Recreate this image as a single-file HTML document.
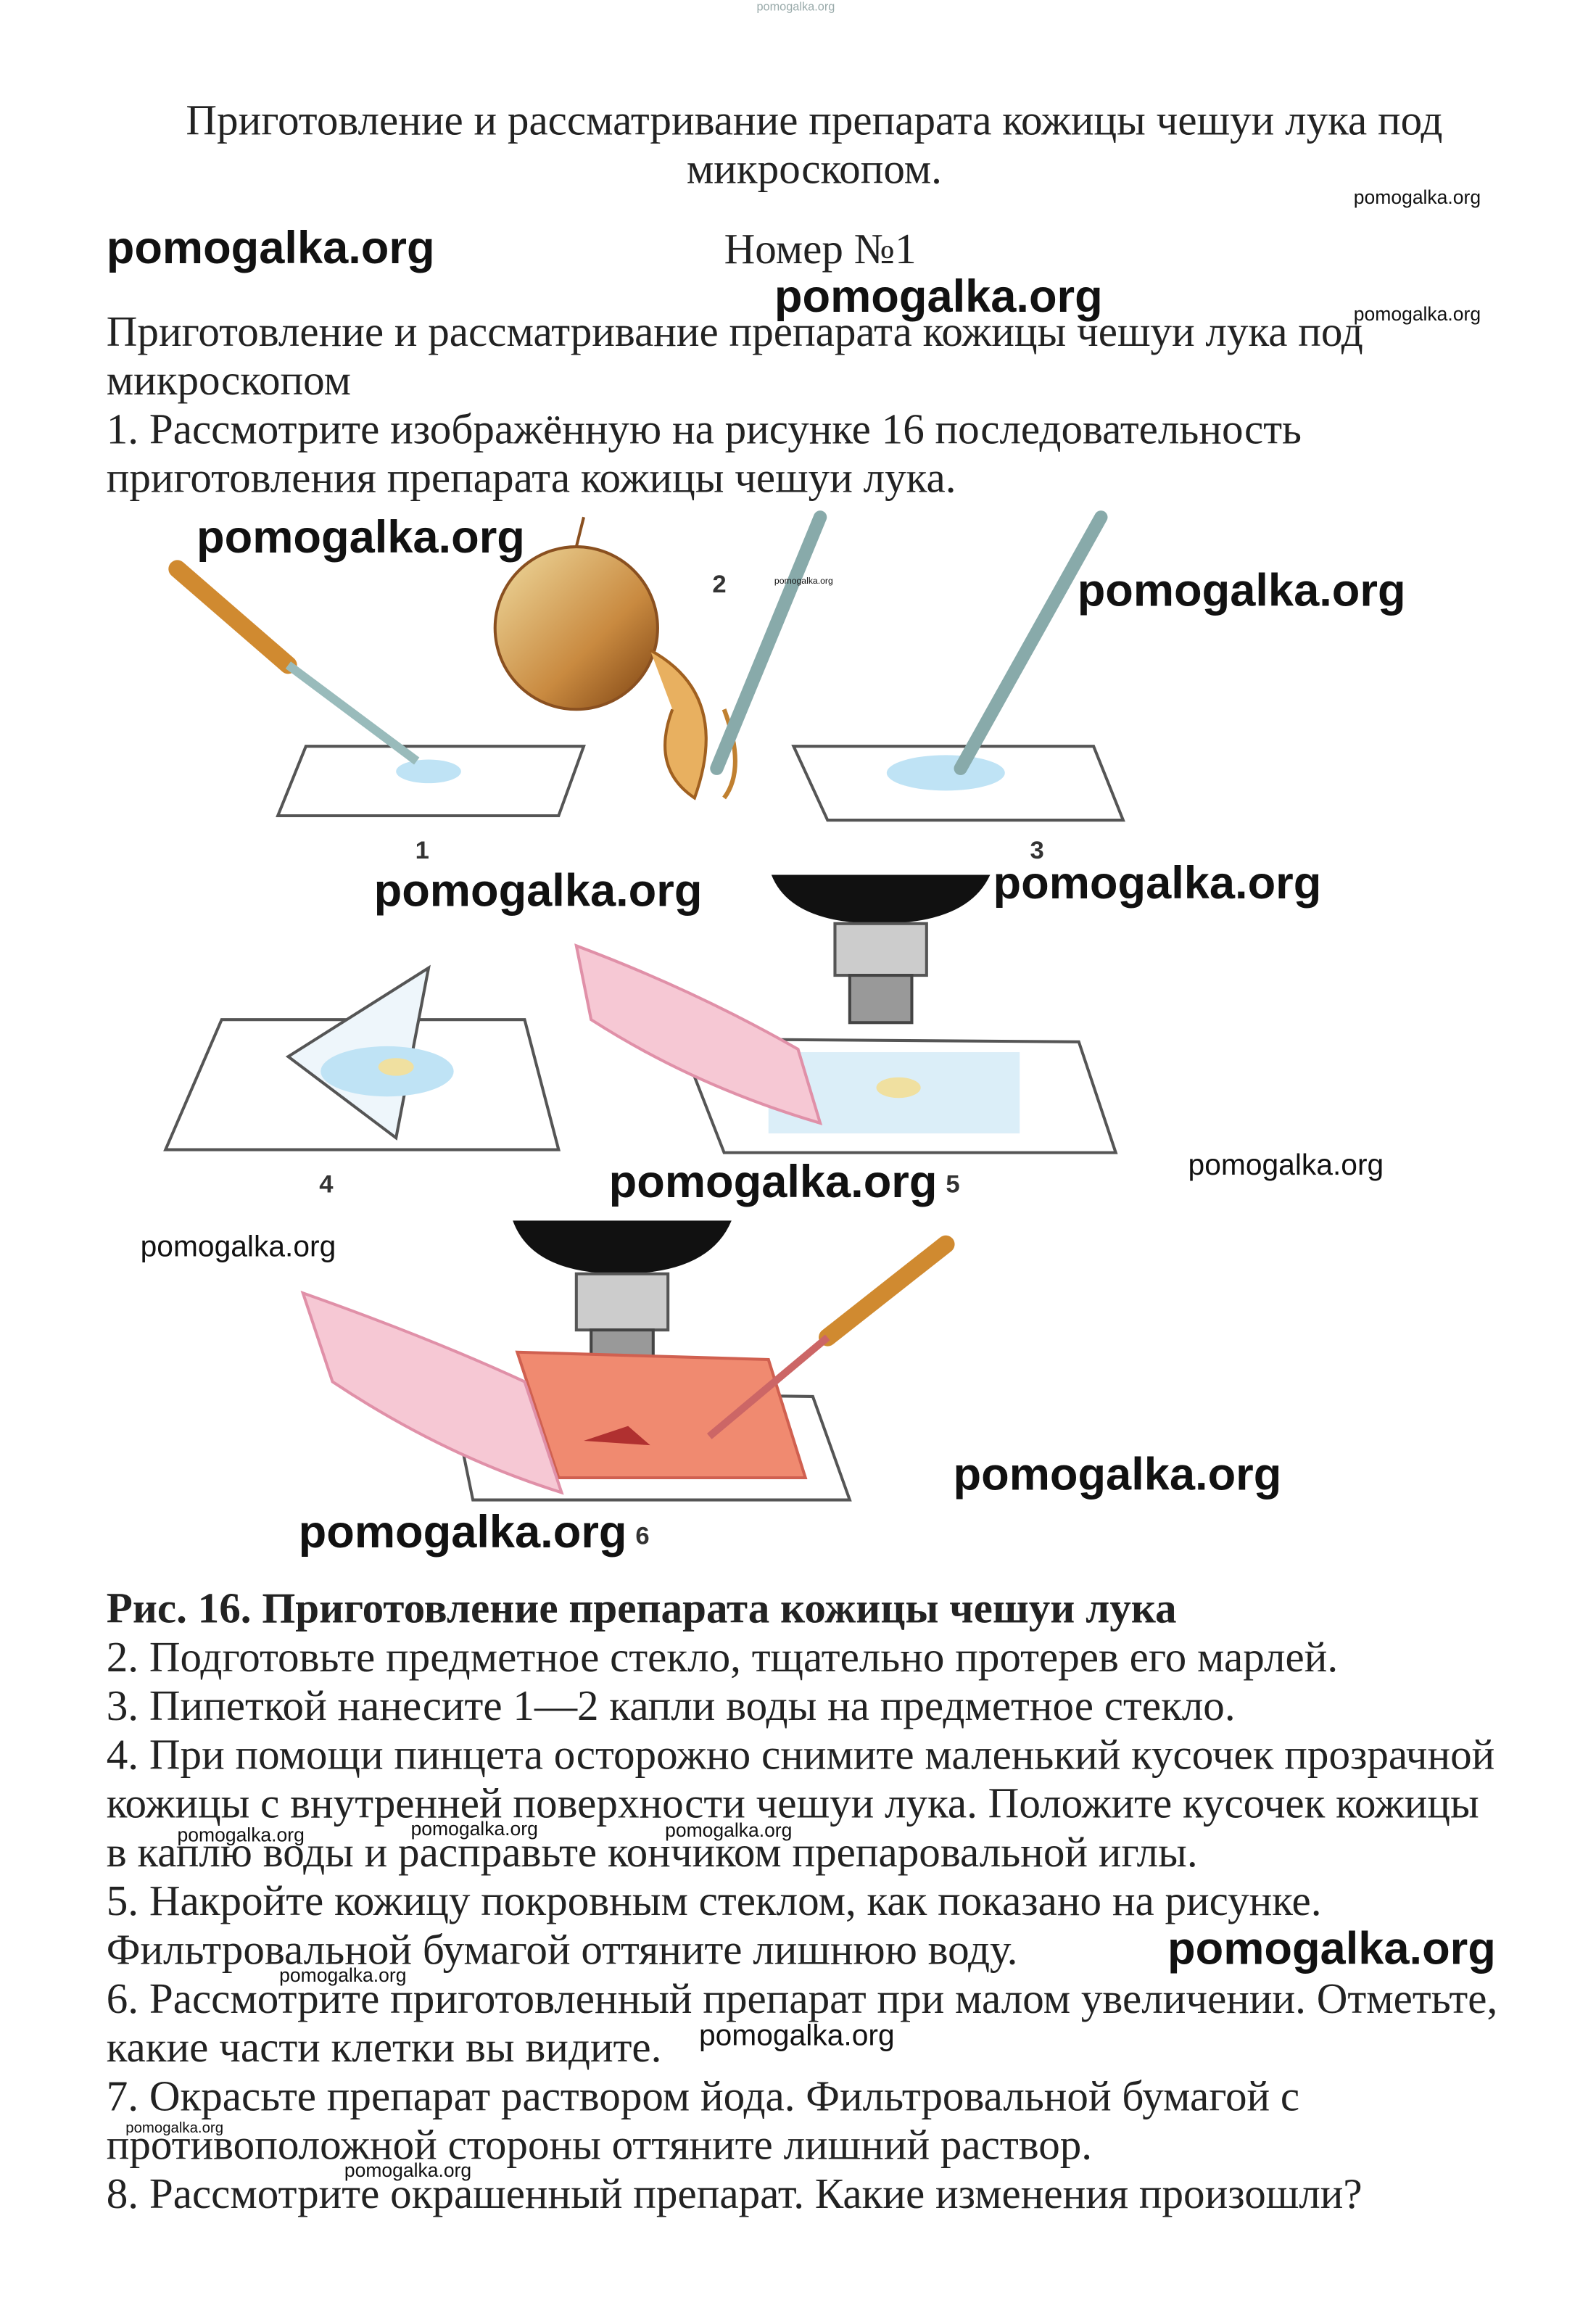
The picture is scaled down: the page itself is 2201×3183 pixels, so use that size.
<!DOCTYPE html>
<html><head><meta charset="utf-8"><style>
html,body{margin:0;padding:0;background:#fff;width:2201px;height:3183px;overflow:hidden}
#w{position:absolute;left:0;top:0;width:1080px;height:1562px;transform:scale(2.038);transform-origin:0 0}
.t{position:absolute;font-family:"Liberation Serif","DejaVu Serif",serif;font-size:29px;line-height:32px;color:#222;white-space:nowrap}
.wm{position:absolute;font-family:"Liberation Sans","DejaVu Sans",sans-serif;font-weight:bold;color:#111;white-space:nowrap}
.b{font-size:31px}.s{font-size:13px;font-weight:normal}.m{font-size:20px}
</style></head><body><div id="w">
<div class="wm" style="left:512px;top:0;font-size:8px;color:#9aa;font-weight:normal">pomogalka.org</div>
<div class="t" style="left:0;width:1102px;text-align:center;top:66px">Приготовление и рассматривание препарата кожицы чешуи лука под</div>
<div class="t" style="left:0;width:1102px;text-align:center;top:99px">микроскопом.</div>
<div class="t" style="left:490px;top:153px">Номер №1</div>
<div class="t" style="left:72px;top:209px">Приготовление и рассматривание препарата кожицы чешуи лука под</div>
<div class="t" style="left:72px;top:242px">микроскопом</div>
<div class="t" style="left:72px;top:275px">1. Рассмотрите изображённую на рисунке 16 последовательность</div>
<div class="t" style="left:72px;top:308px">приготовления препарата кожицы чешуи лука.</div>

<svg style="position:absolute;left:0;top:0" width="1080" height="1562" viewBox="0 0 1080 1562">
<defs><linearGradient id="on" x1="0" y1="0" x2="1" y2="1"><stop offset="0" stop-color="#f0dca0"/><stop offset="0.6" stop-color="#c98a40"/><stop offset="1" stop-color="#7a4010"/></linearGradient></defs>
<g fill="none" stroke="#555" stroke-width="2">
<polygon points="207,505 395,505 378,552 188,552" fill="#fff"/>
<ellipse cx="290" cy="522" rx="22" ry="8" fill="#bfe3f5" stroke="none"/>
<line x1="120" y1="385" x2="195" y2="450" stroke="#d08a30" stroke-width="12" stroke-linecap="round"/>
<line x1="195" y1="450" x2="282" y2="515" stroke="#9bb" stroke-width="6"/>
<ellipse cx="390" cy="425" rx="55" ry="55" fill="url(#on)" stroke="#8a5020"/>
<path d="M390 370 L395 350" stroke="#8a5020"/>
<path d="M440 440 Q495 470 470 540 Q440 520 455 480" fill="#e8b060" stroke="#a06020"/>
<path d="M490 480 Q505 520 490 540" stroke="#c08030" stroke-width="3"/>
<line x1="555" y1="350" x2="485" y2="520" stroke="#8aa" stroke-width="9" stroke-linecap="round"/>
<polygon points="537,505 740,505 760,555 560,555" fill="#fff"/>
<ellipse cx="640" cy="523" rx="40" ry="12" fill="#bfe3f5" stroke="none"/>
<line x1="745" y1="350" x2="650" y2="520" stroke="#8aa" stroke-width="9" stroke-linecap="round"/>
<path d="M522 592 L670 592 Q655 625 595 625 Q535 625 522 592Z" fill="#111" stroke="none"/>
<rect x="565" y="625" width="62" height="35" fill="#ccc" stroke="#555"/>
<rect x="575" y="660" width="42" height="32" fill="#999" stroke="#444"/>
<polygon points="150,690 355,690 378,778 112,778" fill="#fff"/>
<polygon points="195,715 290,655 268,770" fill="#eef6fb"/>
<ellipse cx="262" cy="725" rx="45" ry="17" fill="#bfe3f5" stroke="none"/>
<ellipse cx="268" cy="722" rx="12" ry="6" fill="#f0e0a0" stroke="none"/>
<polygon points="460,703 730,705 755,780 490,780" fill="#fff"/>
<rect x="520" y="712" width="170" height="55" fill="#dbeef8" stroke="none"/>
<ellipse cx="608" cy="736" rx="15" ry="7" fill="#f0e0a0" stroke="none"/>
<path d="M390 640 Q470 670 540 710 L555 760 Q470 735 400 690Z" fill="#f6c8d4" stroke="#e090a8"/>
<path d="M347 826 L495 826 Q480 862 420 862 Q360 862 347 826Z" fill="#111" stroke="none"/>
<rect x="390" y="862" width="62" height="38" fill="#ccc" stroke="#555"/>
<rect x="400" y="900" width="42" height="32" fill="#999" stroke="#444"/>
<polygon points="305,942 550,945 575,1015 320,1015" fill="#fff"/>
<polygon points="350,915 520,920 545,1000 378,1000" fill="#f08a70" stroke="#d06050"/>
<path d="M395 975 L425 965 L440 978Z" fill="#b03030" stroke="none"/>
<path d="M205 875 Q290 905 355 935 L380 1010 Q300 985 225 935Z" fill="#f6c8d4" stroke="#e090a8"/>
<line x1="640" y1="842" x2="560" y2="905" stroke="#d08a30" stroke-width="12" stroke-linecap="round"/>
<line x1="560" y1="905" x2="480" y2="972" stroke="#c66" stroke-width="5"/>
</g>
<g font-family="Liberation Sans,sans-serif" font-weight="bold" font-size="17" fill="#333">
<text x="281" y="581">1</text><text x="482" y="401">2</text><text x="697" y="581">3</text>
<text x="216" y="807">4</text><text x="640" y="807">5</text><text x="430" y="1045">6</text>
</g>
</svg>

<div class="wm b" style="left:72px;top:150px">pomogalka.org</div>
<div class="wm s" style="left:916px;top:126px">pomogalka.org</div>
<div class="wm b" style="left:524px;top:183px">pomogalka.org</div>
<div class="wm s" style="left:916px;top:205px">pomogalka.org</div>
<div class="wm b" style="left:133px;top:346px">pomogalka.org</div>
<div class="wm" style="left:524px;top:391px;font-size:6px;font-weight:normal">pomogalka.org</div>
<div class="wm b" style="left:729px;top:382px">pomogalka.org</div>
<div class="wm b" style="left:253px;top:585px">pomogalka.org</div>
<div class="wm b" style="left:672px;top:580px">pomogalka.org</div>
<div class="wm b" style="left:412px;top:782px">pomogalka.org</div>
<div class="wm m" style="left:804px;top:778px;font-weight:normal">pomogalka.org</div>
<div class="wm m" style="left:95px;top:833px;font-weight:normal">pomogalka.org</div>
<div class="wm b" style="left:645px;top:980px">pomogalka.org</div>
<div class="wm b" style="left:202px;top:1019px">pomogalka.org</div>

<div class="t" style="left:72px;top:1073px;font-weight:bold">Рис. 16. Приготовление препарата кожицы чешуи лука</div>
<div class="t" style="left:72px;top:1106px">2. Подготовьте предметное стекло, тщательно протерев его марлей.</div>
<div class="t" style="left:72px;top:1139px">3. Пипеткой нанесите 1—2 капли воды на предметное стекло.</div>
<div class="t" style="left:72px;top:1172px">4. При помощи пинцета осторожно снимите маленький кусочек прозрачной</div>
<div class="t" style="left:72px;top:1205px">кожицы с внутренней поверхности чешуи лука. Положите кусочек кожицы</div>
<div class="t" style="left:72px;top:1238px">в каплю воды и расправьте кончиком препаровальной иглы.</div>
<div class="t" style="left:72px;top:1271px">5. Накройте кожицу покровным стеклом, как показано на рисунке.</div>
<div class="t" style="left:72px;top:1304px">Фильтровальной бумагой оттяните лишнюю воду.</div>
<div class="t" style="left:72px;top:1337px">6. Рассмотрите приготовленный препарат при малом увеличении. Отметьте,</div>
<div class="t" style="left:72px;top:1370px">какие части клетки вы видите.</div>
<div class="t" style="left:72px;top:1403px">7. Окрасьте препарат раствором йода. Фильтровальной бумагой с</div>
<div class="t" style="left:72px;top:1436px">противоположной стороны оттяните лишний раствор.</div>
<div class="t" style="left:72px;top:1469px">8. Рассмотрите окрашенный препарат. Какие изменения произошли?</div>

<div class="wm s" style="left:120px;top:1234px">pomogalka.org</div>
<div class="wm s" style="left:278px;top:1230px">pomogalka.org</div>
<div class="wm s" style="left:450px;top:1231px">pomogalka.org</div>
<div class="wm b" style="left:790px;top:1301px">pomogalka.org</div>
<div class="wm s" style="left:189px;top:1329px">pomogalka.org</div>
<div class="wm m" style="left:473px;top:1367px;font-weight:normal">pomogalka.org</div>
<div class="wm" style="left:85px;top:1435px;font-size:10px;font-weight:normal">pomogalka.org</div>
<div class="wm s" style="left:233px;top:1461px">pomogalka.org</div>
</div></body></html>
